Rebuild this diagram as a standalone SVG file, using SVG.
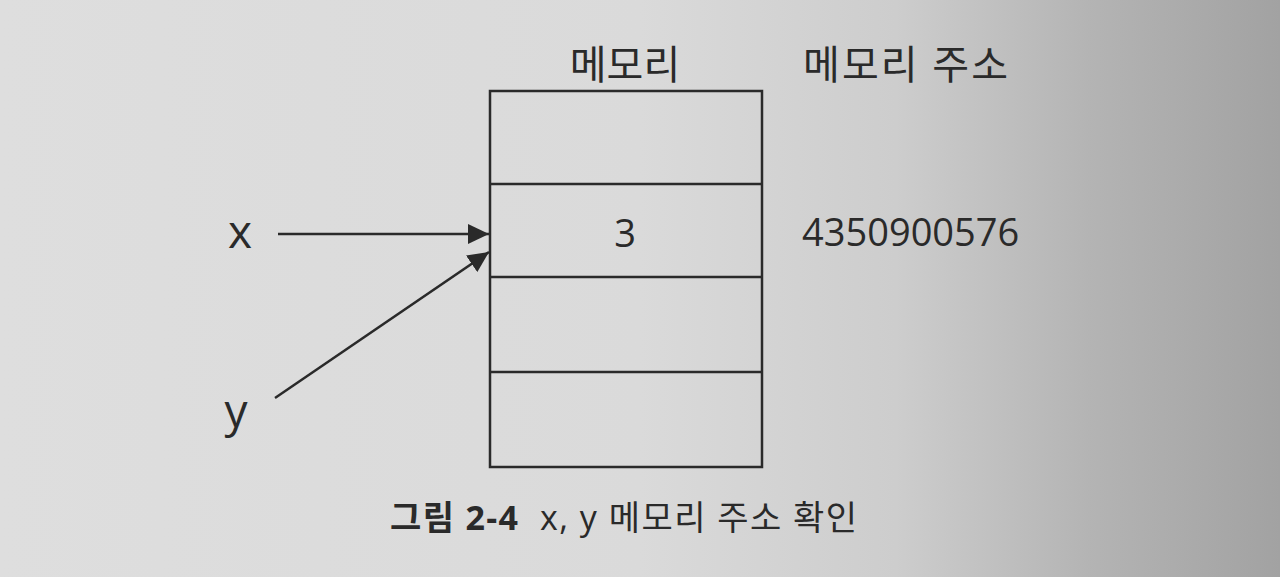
<svg xmlns="http://www.w3.org/2000/svg" width="1280" height="577" viewBox="0 0 1280 577">
  <defs>
    <linearGradient id="bg" x1="0" y1="0" x2="1" y2="0">
      <stop offset="0" stop-color="#dedede"/>
      <stop offset="0.5" stop-color="#dadada"/>
      <stop offset="0.7" stop-color="#cdcdcd"/>
      <stop offset="0.85" stop-color="#b4b4b4"/>
      <stop offset="1" stop-color="#a2a2a2"/>
    </linearGradient>
    <marker id="arr" markerWidth="22" markerHeight="20" refX="21" refY="10" orient="auto" markerUnits="userSpaceOnUse">
      <path d="M0,0 L21,10 L0,20 Z" fill="#2a2a2a"/>
    </marker>
    <style>
      .ln { stroke: #2a2a2a; stroke-width: 2.5; fill: none; }
      .t { fill: #2a2a2a; font-family: "Open Sans", "Noto Sans CJK KR", sans-serif; }
      .k { font-size: 40px; }
    </style>
  </defs>
  <rect width="1280" height="577" fill="url(#bg)"/>

  <g id="memory">
    <text class="t k" x="625" y="79" text-anchor="middle">메모리</text>
    <rect class="ln" x="490" y="91" width="272" height="376"/>
    <line class="ln" x1="490" y1="184" x2="762" y2="184"/>
    <line class="ln" x1="490" y1="277" x2="762" y2="277"/>
    <line class="ln" x1="490" y1="372" x2="762" y2="372"/>
    <text class="t" x="625" y="247" text-anchor="middle" font-size="38">3</text>
  </g>

  <g id="address">
    <text class="t k" x="803" y="79" textLength="205" lengthAdjust="spacing">메모리 주소</text>
    <text class="t" x="802" y="246" font-size="38">4350900576</text>
  </g>

  <g id="var-x">
    <text class="t" x="240" y="248" text-anchor="middle" font-size="46">x</text>
  </g>
  <g id="var-y">
    <text class="t" x="236" y="427" text-anchor="middle" font-size="46">y</text>
  </g>

  <g id="connectors">
    <line class="ln" x1="278" y1="234" x2="489" y2="234" marker-end="url(#arr)"/>
    <line class="ln" x1="275" y1="398" x2="489" y2="252" marker-end="url(#arr)"/>
  </g>

  <g id="caption">
    <text class="t" x="390" y="530" font-size="34" font-weight="bold" fill="#3a3a3a" textLength="128" lengthAdjust="spacing">그림 2-4</text>
    <text class="t" x="540" y="530" font-size="34" textLength="317" lengthAdjust="spacing">x, y 메모리 주소 확인</text>
  </g>
</svg>
